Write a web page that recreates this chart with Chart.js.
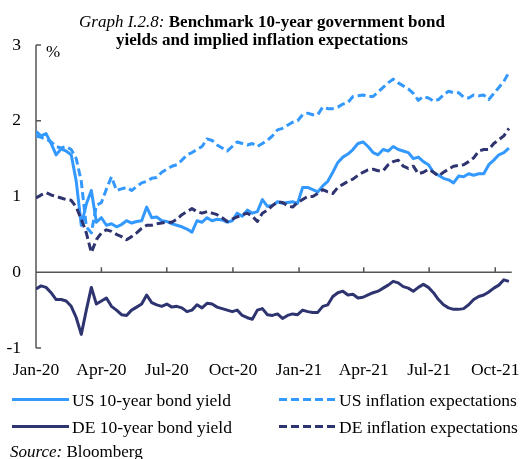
<!DOCTYPE html>
<html>
<head>
<meta charset="utf-8">
<script src="https://cdn.jsdelivr.net/npm/chart.js@4.4.0/dist/chart.umd.min.js"></script>
<style>
  html, body { margin: 0; padding: 0; background: #fff; }
</style>
</head>
<body>
<canvas id="bondChart" width="532" height="459"></canvas>
<script>
// weekly observations starting 1 Jan 2020
const stepDays = 7;
const quarterDays = [0, 91, 182, 274, 366, 456, 547, 639];
const quarterLabels = ['Jan-20', 'Apr-20', 'Jul-20', 'Oct-20', 'Jan-21', 'Apr-21', 'Jul-21', 'Oct-21'];
const yTicks = [-1, 0, 1, 2, 3];

const usYield = [1.86,1.80,1.83,1.70,1.55,1.63,1.60,1.55,1.20,0.62,
  0.90,1.08,0.66,0.72,0.62,0.64,0.60,0.63,0.68,0.65,
  0.67,0.68,0.86,0.72,0.73,0.68,0.67,0.64,0.62,0.60,
  0.57,0.53,0.68,0.66,0.72,0.68,0.70,0.69,0.66,0.68,
  0.78,0.74,0.82,0.78,0.80,0.96,0.87,0.88,0.93,0.91,
  0.92,0.93,0.91,1.12,1.12,1.09,1.06,1.14,1.20,1.32,
  1.45,1.52,1.56,1.62,1.70,1.72,1.66,1.58,1.55,1.62,
  1.60,1.66,1.62,1.60,1.58,1.50,1.52,1.46,1.42,1.32,
  1.28,1.24,1.22,1.18,1.27,1.26,1.30,1.28,1.30,1.30,
  1.42,1.48,1.55,1.58,1.64];

const usInfl = [1.80,1.78,1.76,1.72,1.66,1.64,1.66,1.62,1.50,1.20,
  0.60,0.52,0.88,0.92,1.10,1.26,1.08,1.10,1.12,1.08,
  1.13,1.18,1.20,1.24,1.25,1.32,1.36,1.40,1.42,1.48,
  1.55,1.58,1.62,1.66,1.76,1.74,1.68,1.64,1.60,1.66,
  1.72,1.70,1.68,1.70,1.66,1.70,1.74,1.80,1.88,1.90,
  1.94,1.98,2.00,2.08,2.10,2.08,2.08,2.18,2.16,2.16,
  2.18,2.22,2.24,2.32,2.33,2.34,2.32,2.32,2.38,2.44,
  2.50,2.55,2.50,2.46,2.42,2.36,2.27,2.32,2.30,2.26,
  2.28,2.34,2.39,2.37,2.37,2.31,2.30,2.34,2.33,2.34,
  2.28,2.36,2.44,2.52,2.64];

const deYield = [-0.22,-0.18,-0.20,-0.27,-0.36,-0.36,-0.38,-0.45,-0.60,-0.82,
  -0.50,-0.20,-0.42,-0.38,-0.34,-0.45,-0.50,-0.56,-0.57,-0.50,
  -0.46,-0.42,-0.30,-0.40,-0.43,-0.45,-0.42,-0.46,-0.45,-0.47,
  -0.52,-0.50,-0.43,-0.47,-0.41,-0.42,-0.46,-0.48,-0.50,-0.52,
  -0.50,-0.57,-0.60,-0.62,-0.50,-0.48,-0.56,-0.57,-0.55,-0.61,
  -0.57,-0.55,-0.56,-0.50,-0.52,-0.53,-0.53,-0.45,-0.43,-0.32,
  -0.27,-0.25,-0.30,-0.29,-0.34,-0.33,-0.30,-0.27,-0.25,-0.21,
  -0.17,-0.12,-0.14,-0.19,-0.21,-0.25,-0.20,-0.16,-0.20,-0.27,
  -0.36,-0.43,-0.47,-0.49,-0.49,-0.48,-0.43,-0.36,-0.32,-0.30,
  -0.26,-0.21,-0.17,-0.10,-0.12];

const deInfl = [0.98,1.02,1.05,1.02,1.00,0.98,0.96,0.95,0.86,0.70,
  0.52,0.26,0.43,0.52,0.56,0.54,0.50,0.47,0.43,0.47,
  0.52,0.58,0.62,0.62,0.64,0.65,0.66,0.66,0.70,0.76,
  0.80,0.84,0.80,0.78,0.80,0.78,0.76,0.72,0.67,0.70,
  0.73,0.76,0.78,0.74,0.67,0.78,0.82,0.88,0.93,0.92,
  0.88,0.86,0.92,0.96,1.00,1.00,1.04,1.09,1.06,1.04,
  1.12,1.16,1.20,1.23,1.28,1.32,1.35,1.36,1.34,1.34,
  1.42,1.46,1.48,1.40,1.37,1.40,1.30,1.32,1.36,1.32,
  1.27,1.32,1.36,1.40,1.41,1.42,1.46,1.51,1.60,1.62,
  1.62,1.70,1.75,1.80,1.90];

const lightBlue = '#3399ff';
const navy = '#2e3470';
const axisGrey = '#555555';
const serif = "'Liberation Serif', 'Times New Roman', serif";
const dash = [8, 4];

function toPoints(values) {
  return values.map((v, i) => ({ x: i * stepDays, y: v }));
}

// axes, title, legend and source drawn by hand to match the original layout
const framePlugin = {
  id: 'frame',
  beforeDatasetsDraw(chart) {
    const ctx = chart.ctx;
    const x = chart.scales.x, y = chart.scales.y;
    const left = chart.chartArea.left;
    ctx.save();
    ctx.strokeStyle = axisGrey;
    ctx.lineWidth = 1.5;
    ctx.beginPath();
    ctx.moveTo(left, y.getPixelForValue(3));
    ctx.lineTo(left, y.getPixelForValue(-1));
    yTicks.forEach(t => {
      const py = y.getPixelForValue(t);
      ctx.moveTo(left, py);
      ctx.lineTo(left + 5, py);
    });
    const zy = y.getPixelForValue(0);
    ctx.moveTo(left, zy);
    ctx.lineTo(chart.chartArea.right, zy);
    quarterDays.forEach(d => {
      const px = x.getPixelForValue(d);
      ctx.moveTo(px, zy);
      ctx.lineTo(px, zy - 5);
    });
    ctx.stroke();
    ctx.restore();
  },
  afterDraw(chart) {
    const ctx = chart.ctx;
    ctx.save();
    ctx.fillStyle = '#000';
    ctx.textBaseline = 'alphabetic';

    // title
    const cx = 262;
    const part1 = 'Graph I.2.8: ';
    const part2 = 'Benchmark 10-year government bond';
    ctx.font = 'italic 17px ' + serif;
    const w1 = ctx.measureText(part1).width;
    ctx.font = 'bold 17px ' + serif;
    const w2 = ctx.measureText(part2).width;
    let sx = cx - (w1 + w2) / 2;
    ctx.font = 'italic 17px ' + serif;
    ctx.fillText(part1, sx, 26.5);
    ctx.font = 'bold 17px ' + serif;
    ctx.fillText(part2, sx + w1, 26.5);
    ctx.textAlign = 'center';
    ctx.fillText('yields and implied inflation expectations', cx, 44.5);
    ctx.textAlign = 'left';

    // unit
    ctx.font = '17px ' + serif;
    ctx.fillText('%', 46, 57);

    // legend
    const cols = [12, 279];
    const rows = [399.5, 426.5];
    chart.data.datasets.forEach((ds, idx) => {
      const lx = cols[idx % 2];
      const ly = rows[Math.floor(idx / 2)];
      ctx.save();
      ctx.strokeStyle = ds.borderColor;
      ctx.lineWidth = 3;
      ctx.setLineDash(ds.borderDash || []);
      ctx.beginPath();
      ctx.moveTo(lx, ly);
      ctx.lineTo(lx + 57, ly);
      ctx.stroke();
      ctx.restore();
      ctx.font = '17.5px ' + serif;
      ctx.fillText(ds.label, lx + 60, ly + 6);
    });

    // source
    ctx.font = 'italic 17px ' + serif;
    ctx.fillText('Source:', 10, 457);
    const ws = ctx.measureText('Source: ').width;
    ctx.font = '17px ' + serif;
    ctx.fillText('Bloomberg', 10 + ws, 457);
    ctx.restore();
  }
};

const lineStyle = { pointRadius: 0, borderWidth: 3, tension: 0, borderJoinStyle: 'round', fill: false };

new Chart(document.getElementById('bondChart'), {
  type: 'line',
  data: {
    datasets: [
      { label: 'US 10-year bond yield', data: toPoints(usYield), borderColor: lightBlue, order: 4, ...lineStyle },
      { label: 'US inflation expectations', data: toPoints(usInfl), borderColor: lightBlue, borderDash: dash, order: 2, ...lineStyle },
      { label: 'DE 10-year bond yield', data: toPoints(deYield), borderColor: navy, order: 3, ...lineStyle },
      { label: 'DE inflation expectations', data: toPoints(deInfl), borderColor: navy, borderDash: dash, order: 1, ...lineStyle }
    ]
  },
  options: {
    responsive: false,
    animation: false,
    layout: { padding: { top: 45, right: 13, bottom: 0, left: 0 } },
    plugins: { legend: { display: false }, tooltip: { enabled: false }, title: { display: false } },
    scales: {
      x: {
        type: 'linear',
        min: 0,
        max: 662,
        grid: { display: false, drawTicks: false },
        border: { display: false },
        afterFit(scale) { scale.height = 111; },
        afterBuildTicks(scale) { scale.ticks = quarterDays.map(v => ({ value: v })); },
        ticks: {
          autoSkip: false,
          maxRotation: 0,
          padding: 12,
          color: '#000',
          font: { family: serif, size: 17.5 },
          callback: (v, i) => quarterLabels[i]
        }
      },
      y: {
        min: -1,
        max: 3,
        grid: { display: false, drawTicks: false },
        border: { display: false },
        afterFit(scale) { scale.width = 36; },
        afterBuildTicks(scale) { scale.ticks = yTicks.map(v => ({ value: v })); },
        ticks: {
          padding: 15,
          color: '#000',
          font: { family: serif, size: 17.5 }
        }
      }
    }
  },
  plugins: [framePlugin]
});
</script>
</body>
</html>
